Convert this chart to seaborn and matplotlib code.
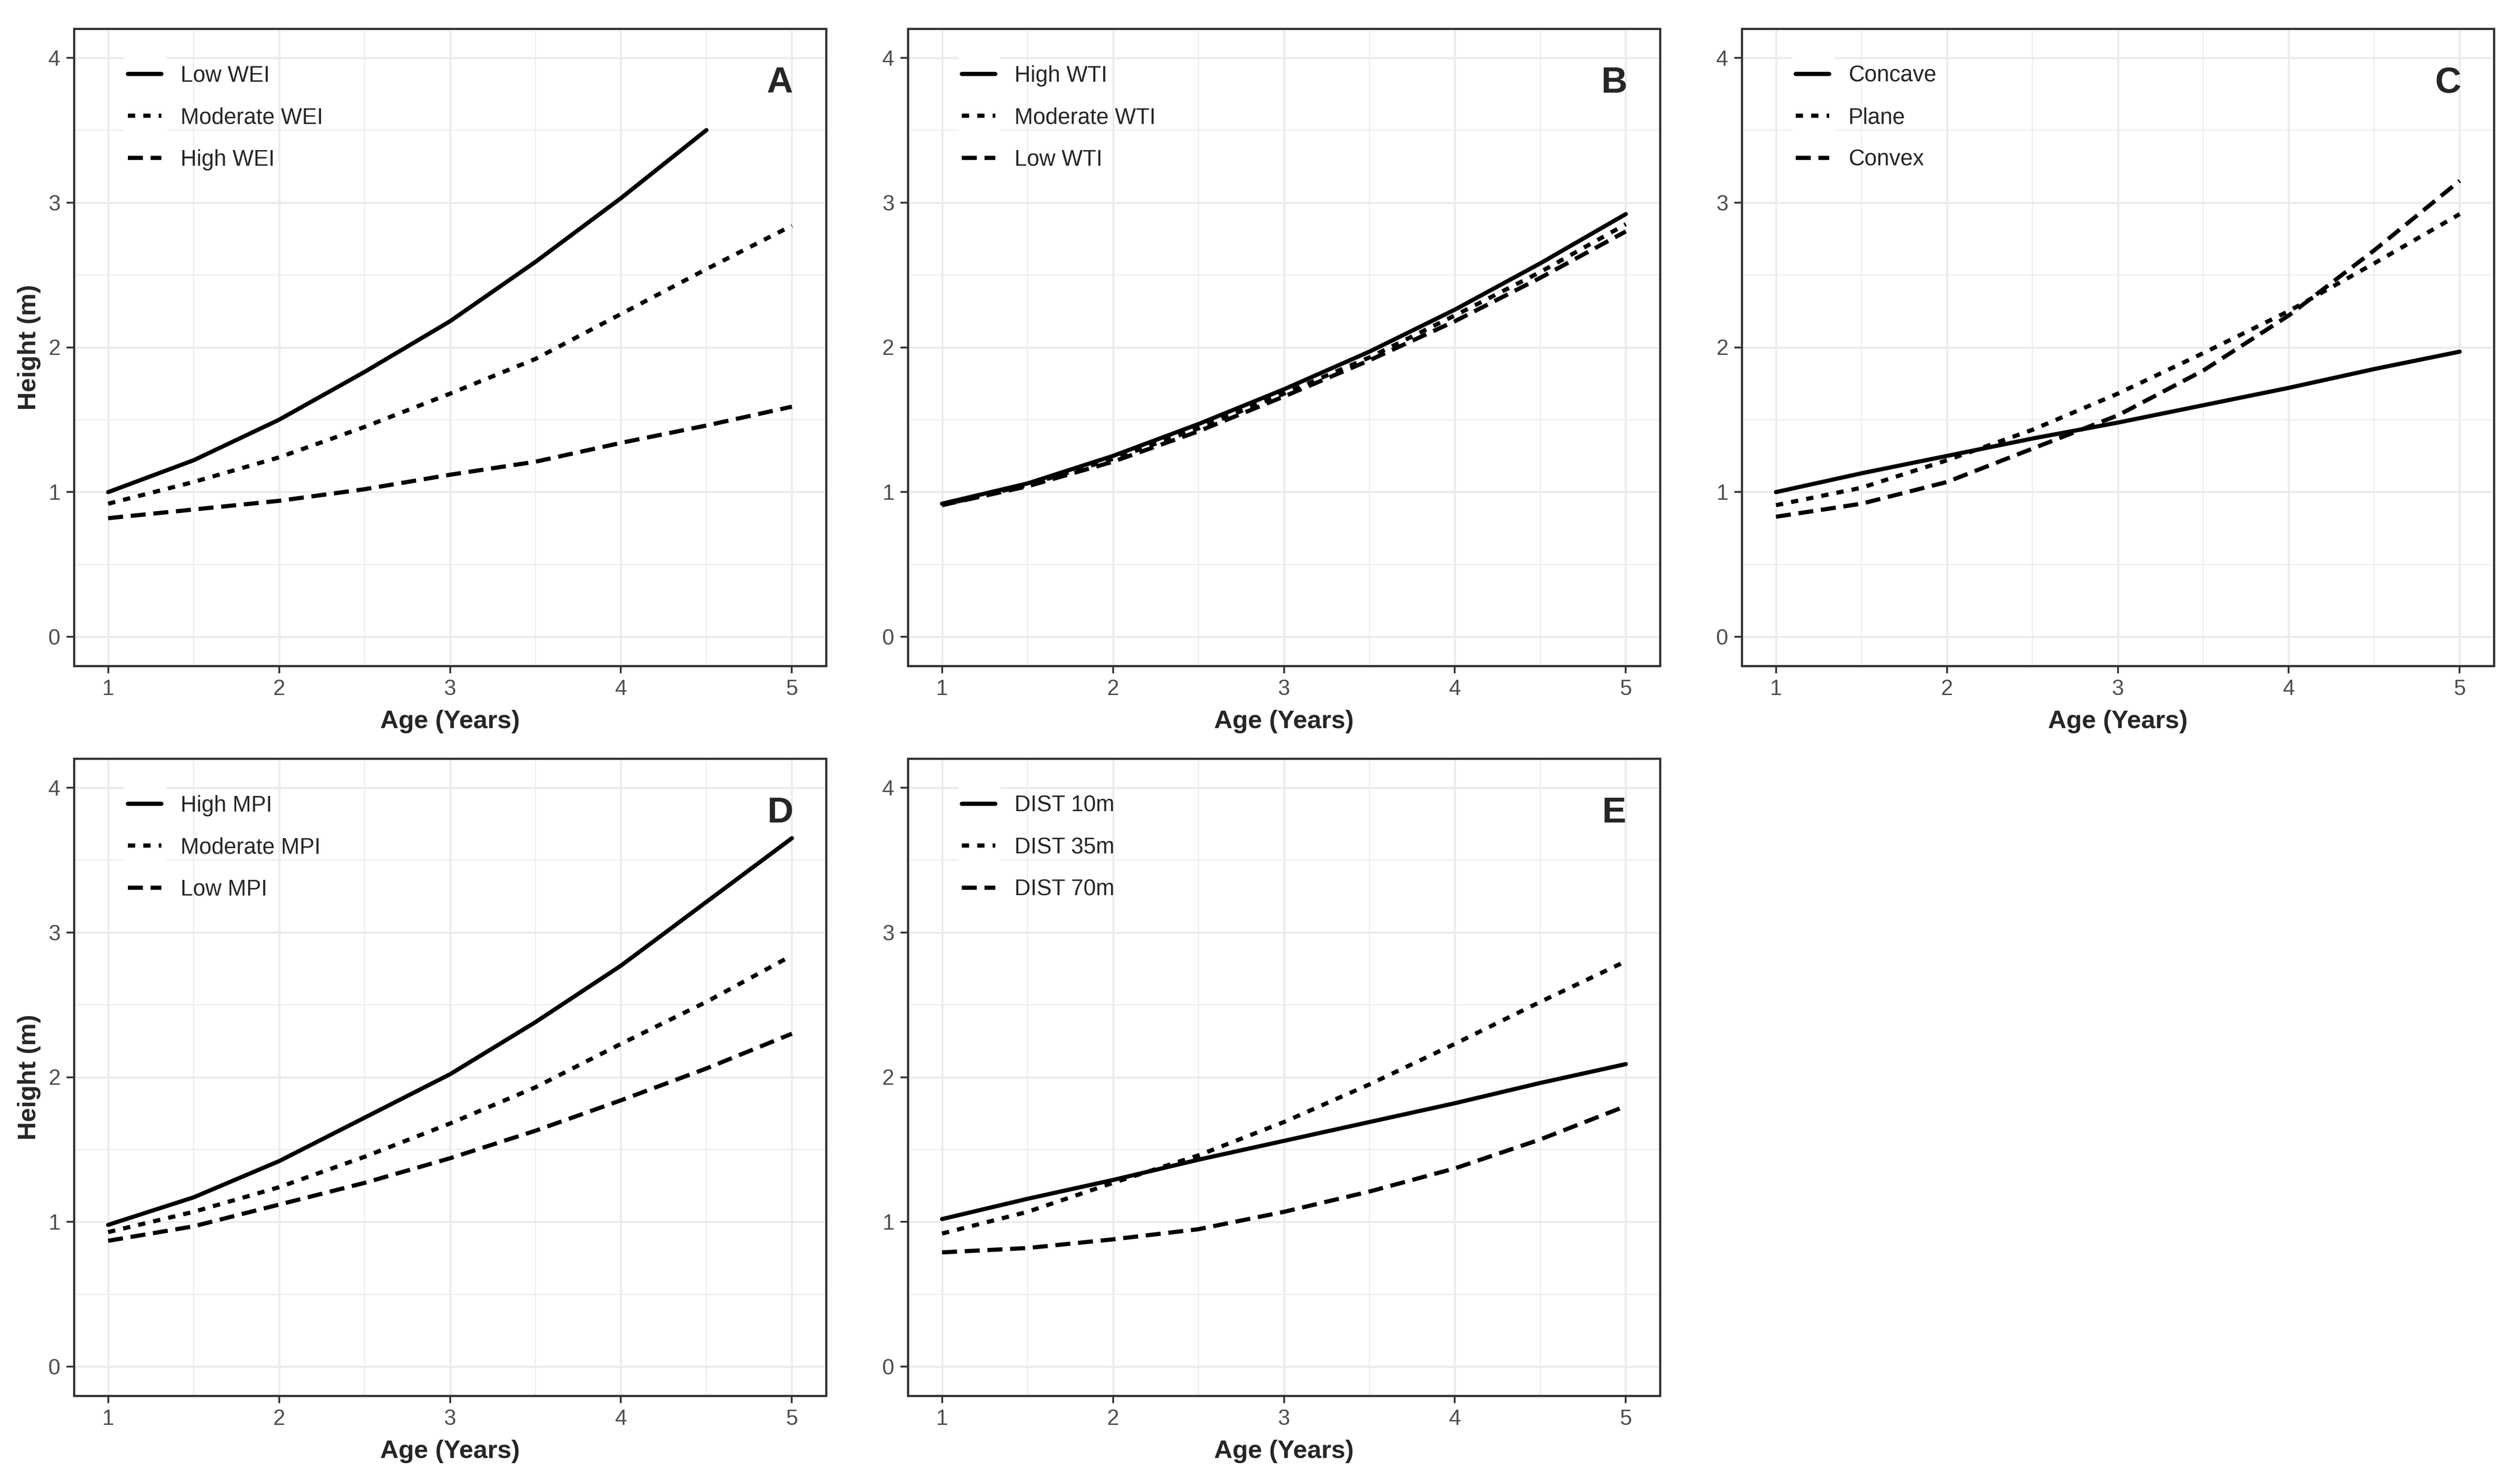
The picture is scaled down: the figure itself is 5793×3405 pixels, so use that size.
import numpy as np
import pandas as pd
import seaborn as sns
import matplotlib.pyplot as plt
from matplotlib.patches import Rectangle
from matplotlib.ticker import MultipleLocator

AGE = [1.0, 1.5, 2.0, 2.5, 3.0, 3.5, 4.0, 4.5, 5.0]

# A - wetness index (low WEI stops at 4.5 years)
wei_labels = ["Low WEI", "Moderate WEI", "High WEI"]
wei_low = [1.00, 1.22, 1.50, 1.83, 2.18, 2.59, 3.03, 3.50]
wei_moderate = [0.92, 1.07, 1.24, 1.45, 1.68, 1.92, 2.23, 2.54, 2.84]
wei_high = [0.82, 0.88, 0.94, 1.02, 1.12, 1.21, 1.34, 1.46, 1.59]

# B - topographic wetness index
wti_labels = ["High WTI", "Moderate WTI", "Low WTI"]
wti_high = [0.92, 1.06, 1.25, 1.47, 1.71, 1.97, 2.26, 2.58, 2.92]
wti_moderate = [0.91, 1.05, 1.23, 1.44, 1.68, 1.93, 2.22, 2.52, 2.85]
wti_low = [0.91, 1.04, 1.21, 1.42, 1.66, 1.91, 2.18, 2.48, 2.80]

# C - slope form
form_labels = ["Concave", "Plane", "Convex"]
form_concave = [1.00, 1.13, 1.25, 1.37, 1.48, 1.60, 1.72, 1.85, 1.97]
form_plane = [0.91, 1.03, 1.22, 1.43, 1.68, 1.96, 2.25, 2.58, 2.92]
form_convex = [0.83, 0.92, 1.07, 1.30, 1.53, 1.84, 2.22, 2.67, 3.15]

# D - MPI
mpi_labels = ["High MPI", "Moderate MPI", "Low MPI"]
mpi_high = [0.98, 1.17, 1.42, 1.72, 2.02, 2.38, 2.77, 3.21, 3.65]
mpi_moderate = [0.93, 1.07, 1.24, 1.45, 1.68, 1.93, 2.23, 2.52, 2.84]
mpi_low = [0.87, 0.97, 1.12, 1.27, 1.44, 1.63, 1.84, 2.06, 2.30]

# E - distance
dist_labels = ["DIST 10m", "DIST 35m", "DIST 70m"]
dist_10 = [1.02, 1.16, 1.29, 1.43, 1.56, 1.69, 1.82, 1.96, 2.09]
dist_35 = [0.92, 1.07, 1.27, 1.46, 1.69, 1.95, 2.23, 2.52, 2.80]
dist_70 = [0.79, 0.82, 0.88, 0.95, 1.07, 1.21, 1.37, 1.57, 1.80]

panels = [
    ("A", wei_labels, [wei_low, wei_moderate, wei_high]),
    ("B", wti_labels, [wti_high, wti_moderate, wti_low]),
    ("C", form_labels, [form_concave, form_plane, form_convex]),
    ("D", mpi_labels, [mpi_high, mpi_moderate, mpi_low]),
    ("E", dist_labels, [dist_10, dist_35, dist_70]),
]


def to_frame(labels, series):
    rows = []
    for lab, vals in zip(labels, series):
        for a, h in zip(AGE, vals):
            rows.append({"age": a, "height": h, "group": lab})
    return pd.DataFrame(rows)


sns.set_style("white")
plt.rcParams["font.family"] = ["Liberation Sans", "DejaVu Sans"]

W, H = 5793, 3405
fig = plt.figure(figsize=(W / 300, H / 300), dpi=300)

ax_w, ax_h = 1729 / W, 1465 / H
lefts = [170 / W, 2087 / W, 4004 / W]
bottoms = [1 - 1531 / H, 1 - 3209 / H]
positions = [(lefts[0], bottoms[0]), (lefts[1], bottoms[0]), (lefts[2], bottoms[0]),
             (lefts[0], bottoms[1]), (lefts[1], bottoms[1])]

LW = 2.3
grid_col = "#EBEBEB"
frame_col = "#333333"

for i, ((letter, labels, series), (l, b)) in enumerate(zip(panels, positions)):
    ax = fig.add_axes([l, b, ax_w, ax_h])
    df = to_frame(labels, series)
    dashes = {labels[0]: "", labels[1]: (1.75, 1.95), labels[2]: (3.6, 1.85)}
    sns.lineplot(data=df, x="age", y="height", style="group", style_order=labels,
                 dashes=dashes, color="black", linewidth=LW, ax=ax,
                 estimator=None, sort=True, zorder=3)

    ax.set_xlim(0.8, 5.2)
    ax.set_ylim(-0.2, 4.2)
    ax.xaxis.set_major_locator(MultipleLocator(1))
    ax.xaxis.set_minor_locator(MultipleLocator(0.5))
    ax.yaxis.set_major_locator(MultipleLocator(1))
    ax.yaxis.set_minor_locator(MultipleLocator(0.5))
    ax.set_axisbelow(True)
    ax.grid(which="major", color=grid_col, linewidth=1.1)
    ax.grid(which="minor", color=grid_col, linewidth=0.55)
    ax.tick_params(which="major", direction="out", length=4.1, width=1.0,
                   color=frame_col, labelsize=12, labelcolor="#4D4D4D", pad=3.4,
                   bottom=True, left=True)
    ax.tick_params(which="minor", length=0)
    for sp in ax.spines.values():
        sp.set_color(frame_col)
        sp.set_linewidth(1.2)
        sp.set_visible(True)

    ax.set_xlabel("Age (Years)", fontsize=14, fontweight="bold")
    ax.xaxis.set_label_coords(0.5, -0.069)
    ax.xaxis.label.set_va("top")
    if i in (0, 3):
        ax.set_ylabel("Height (m)", fontsize=14, fontweight="bold")
        ax.yaxis.set_label_coords(-0.044, 0.5)
    else:
        ax.set_ylabel("")

    # white legend key background (ggplot style)
    ax.add_patch(Rectangle((0.067, 0.772), 0.056, 0.195, transform=ax.transAxes,
                           facecolor="white", edgecolor="none", zorder=0.8))

    handles, hl = ax.get_legend_handles_labels()
    if ax.get_legend() is not None:
        ax.get_legend().remove()
    leg = ax.legend(handles, hl, loc="upper left", bbox_to_anchor=(0.072, 0.943),
                    frameon=False, fontsize=12.3, borderpad=0, borderaxespad=0,
                    handlelength=1.5, handletextpad=0.85, labelspacing=0.93)
    for ln in leg.get_lines():
        ln.set_color("black")
        ln.set_linewidth(LW)

    ax.text(0.939, 0.915, letter, transform=ax.transAxes, fontsize=20,
            fontweight="bold", ha="center", va="center")

fig.savefig("out.png", dpi=300)
